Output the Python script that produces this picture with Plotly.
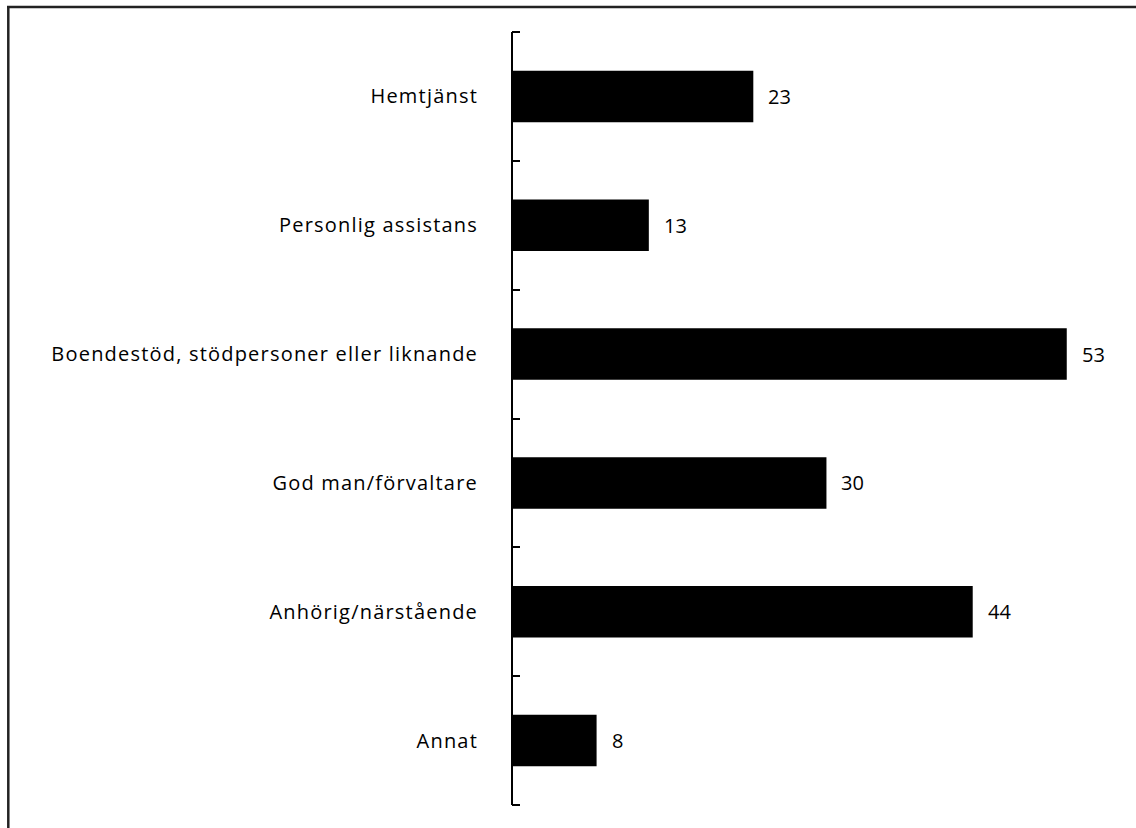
import plotly.graph_objects as go

categories = ["Hemtjänst", "Personlig assistans", "Boendestöd, stödpersoner eller liknande",
              "God man/förvaltare", "Anhörig/närstående", "Annat"]
values = [23, 13, 53, 30, 44, 8]

W, H = 1136, 828
L, R, T, B = 513, 17, 32, 23
pw, ph = W - L - R, H - T - B

fig = go.Figure(go.Bar(
    x=values, y=categories, orientation="h",
    marker=dict(color="black", line=dict(width=0)),
    width=0.4,
))

for c, v in zip(categories, values):
    fig.add_annotation(x=v, y=c, text=str(v), showarrow=False, xanchor="left",
                       xshift=13, font=dict(family="Open Sans", size=20, color="black"))

def px(x):
    return (x - L) / pw

def py(y):
    return (H - B - y) / ph

# outer frame (top and left edges visible)
fig.add_shape(type="line", xref="paper", yref="paper", x0=px(7), x1=px(1140),
              y0=py(7), y1=py(7), line=dict(color="#222", width=2.5))
fig.add_shape(type="line", xref="paper", yref="paper", x0=px(8.3), x1=px(8.3),
              y0=py(6), y1=py(832), line=dict(color="#222", width=2.5))
# end ticks of the category axis
for yp in (0, 1):
    fig.add_shape(type="line", xref="paper", yref="paper", x0=px(512), x1=px(520),
                  y0=yp, y1=yp, line=dict(color="black", width=2))

fig.update_layout(
    width=W, height=H,
    margin=dict(l=L, r=R, t=T, b=B),
    plot_bgcolor="white", paper_bgcolor="white",
    showlegend=False,
    xaxis=dict(range=[0, 58], visible=False, fixedrange=True),
    yaxis=dict(
        autorange="reversed", type="category",
        showline=True, linecolor="black", linewidth=2,
        ticks="inside", ticklen=7, tickwidth=2, tickcolor="black",
        tickson="boundaries", ticklabelstandoff=29,
        tickfont=dict(family="Open Sans", size=20, color="black"),
        showgrid=False, zeroline=False, fixedrange=True,
    ),
)

post = """
document.body.style.margin='0';
document.body.style.overflow='hidden';
document.querySelectorAll('.ytick text').forEach(function(t){t.style.letterSpacing='1.2px';});
"""
fig.write_html("out.html", post_script=post, config={"displayModeBar": False})
